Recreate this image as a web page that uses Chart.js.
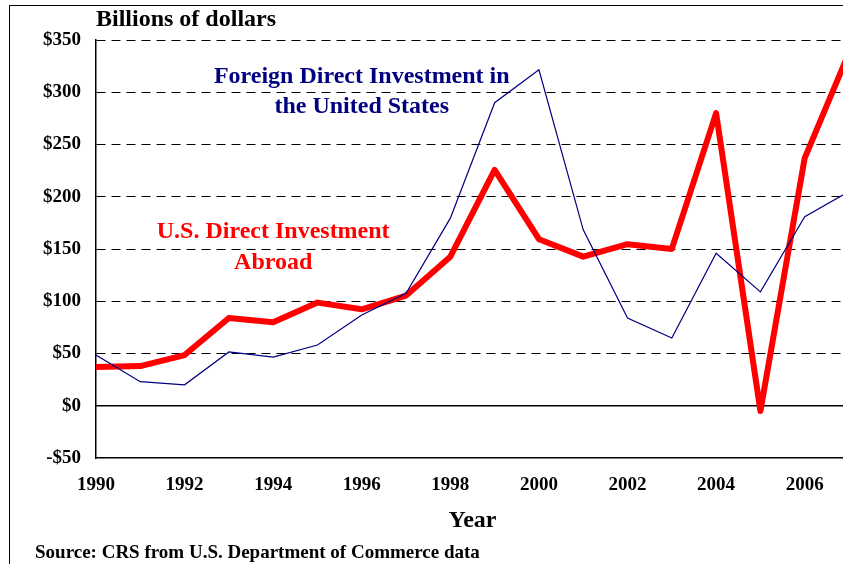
<!DOCTYPE html>
<html>
<head>
<meta charset="utf-8">
<script src="https://cdn.jsdelivr.net/npm/chart.js@4.4.1/dist/chart.umd.min.js"></script>
<style>
    html, body { margin: 0; padding: 0; background: #fff; overflow: hidden; }
    #frame {
        position: absolute; left: 9px; top: 5px; width: 1000px; height: 1000px;
        border-left: 1.5px solid #000; border-top: 1.5px solid #000;
    }
    #wrap { position: absolute; left: 0; top: 0; }
</style>
</head>
<body>
<div id="frame"></div>
<div id="wrap"><canvas id="fdi-chart" width="870" height="564"></canvas></div>
<script>
// Data (billions of dollars)
const years = [1990, 1991, 1992, 1993, 1994, 1995, 1996, 1997, 1998, 1999,
               2000, 2001, 2002, 2003, 2004, 2005, 2006, 2007];
const usAbroad = [37, 38, 48.5, 84, 80, 98.7, 92.3, 105.4, 142.7, 225.7,
                  159.4, 142.7, 154.6, 150.1, 280, -5, 237, 338];
const foreignInUS = [48.5, 23, 20, 51.5, 46.5, 58.1, 86.9, 107.7, 179.5, 290,
                     321.5, 168.3, 84, 64.8, 146, 109, 181, 205];
const yTicks = [-50, 0, 50, 100, 150, 200, 250, 300, 350];

const serif = "'Liberation Serif', 'Times New Roman', serif";
const NAVY = '#000080';
const RED = '#ff0000';

function toPoints(values) {
    return years.map((y, i) => ({ x: y, y: values[i] }));
}

// Extra text and the solid zero line
const extrasPlugin = {
    id: 'extras',
    beforeDatasetsDraw(chart) {
        const ctx = chart.ctx;
        const y = chart.scales.y;
        const area = chart.chartArea;
        ctx.save();
        ctx.strokeStyle = '#000';
        ctx.lineWidth = 1.5;
        ctx.beginPath();
        ctx.moveTo(area.left, y.getPixelForValue(0));
        ctx.lineTo(area.right, y.getPixelForValue(0));
        ctx.stroke();
        ctx.restore();
    },
    afterDraw(chart) {
        const ctx = chart.ctx;
        const { x, y } = chart.scales;
        ctx.save();
        ctx.textBaseline = 'middle';
        ctx.font = 'bold 24px ' + serif;

        ctx.fillStyle = '#000';
        ctx.textAlign = 'left';
        ctx.fillText('Billions of dollars', chart.chartArea.left, 20);

        ctx.fillStyle = NAVY;
        ctx.textAlign = 'center';
        ctx.fillText('Foreign Direct Investment in', x.getPixelForValue(1996), y.getPixelForValue(314.8));
        ctx.fillText('the United States', x.getPixelForValue(1996), y.getPixelForValue(286));

        ctx.fillStyle = RED;
        ctx.fillText('U.S. Direct Investment', x.getPixelForValue(1994), y.getPixelForValue(166.4));
        ctx.fillText('Abroad', x.getPixelForValue(1994), y.getPixelForValue(136.7));

        ctx.fillStyle = '#000';
        ctx.textAlign = 'left';
        ctx.font = 'bold 19px ' + serif;
        ctx.fillText('Source: CRS from U.S. Department of Commerce data', 35, 553);
        ctx.restore();
    }
};

new Chart(document.getElementById('fdi-chart'), {
    type: 'line',
    data: {
        datasets: [{
            label: 'Foreign Direct Investment in the United States',
            data: toPoints(foreignInUS),
            borderColor: NAVY,
            borderWidth: 1.2,
            pointRadius: 0,
            tension: 0
        }, {
            label: 'U.S. Direct Investment Abroad',
            data: toPoints(usAbroad),
            borderColor: RED,
            borderWidth: 6,
            borderJoinStyle: 'round',
            pointRadius: 0,
            tension: 0
        }]
    },
    options: {
        responsive: false,
        animation: false,
        layout: { padding: { left: 0, top: 40, right: 21, bottom: 0 } },
        plugins: {
            legend: { display: false },
            tooltip: { enabled: false }
        },
        scales: {
            x: {
                type: 'linear',
                min: 1990,
                max: 2007,
                afterFit(scale) { scale.height = 106; },
                grid: { display: false, drawTicks: false },
                border: { display: true, color: '#000', width: 1.5 },
                ticks: {
                    stepSize: 2,
                    includeBounds: false,
                    padding: 16,
                    color: '#000',
                    font: { family: serif, size: 19, weight: 'bold' },
                    callback: (v) => String(v)
                },
                title: {
                    display: true,
                    text: 'Year',
                    color: '#000',
                    font: { family: serif, size: 24, weight: 'bold' },
                    padding: { top: 0, bottom: 29 }
                }
            },
            y: {
                min: -50,
                max: 350,
                afterFit(scale) { scale.width = 96; },
                afterBuildTicks(scale) { scale.ticks = yTicks.map(v => ({ value: v })); },
                grid: {
                    drawTicks: false,
                    lineWidth: 1,
                    color: (c) => (c.tick && (c.tick.value === 0 || c.tick.value === -50)) ? 'rgba(0,0,0,0)' : '#000'
                },
                border: { display: true, color: '#000', width: 1.5, dash: [9, 6] },
                ticks: {
                    padding: 15,
                    color: '#000',
                    font: { family: serif, size: 19, weight: 'bold' },
                    callback: (v) => (v < 0 ? '-$' + Math.abs(v) : '$' + v)
                }
            }
        }
    },
    plugins: [extrasPlugin]
});
</script>
</body>
</html>
